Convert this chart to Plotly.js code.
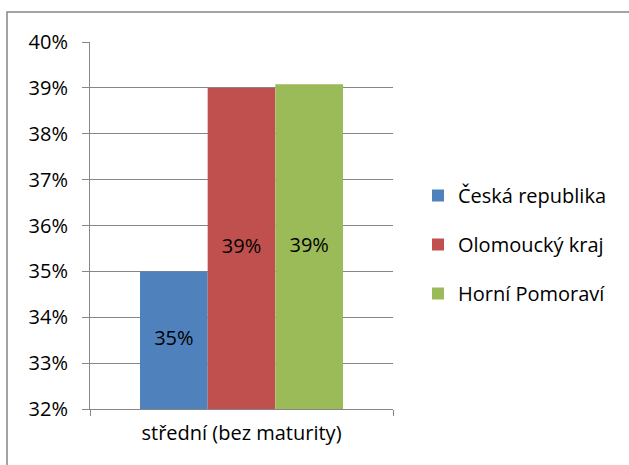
<!DOCTYPE html>
<html>
<head>
<meta charset="utf-8">
<script src="https://cdn.plot.ly/plotly-3.0.1.min.js"></script>
<style>html,body{margin:0;padding:0;background:#fff;}#chart{width:629px;height:465px;}</style>
</head>
<body>
<div id="chart"></div>
<script>
var categories = ["střední (bez maturity)"];
var seriesNames = ["Česká republika", "Olomoucký kraj", "Horní Pomoraví"];
var ceskaRepublika = [0.350];
var olomouckyKraj = [0.390];
var horniPomoravi = [0.3908];
var yTickVals = [0.32, 0.33, 0.34, 0.35, 0.36, 0.37, 0.38, 0.39, 0.40];

var colors = ["#4F81BD", "#C0504D", "#9BBB59"];
var values = [ceskaRepublika, olomouckyKraj, horniPomoravi];
var FONT = "Open Sans, Noto Sans, sans-serif";
var yMin = yTickVals[0], yMax = yTickVals[yTickVals.length - 1];

var traces = values.map(function (v, i) {
  return {
    type: "bar",
    name: seriesNames[i],
    x: categories,
    y: v,
    legendgroup: "g" + i,
    offsetgroup: "o" + i,
    marker: {color: colors[i], line: {width: 0}},
    hoverinfo: "none"
  };
});

// data labels centred in the visible part of each bar
values.forEach(function (v, i) {
  traces.push({
    type: "scatter",
    mode: "text",
    x: categories,
    y: v.map(function (d) { return (yMin + d) / 2; }),
    text: v.map(function (d) { return Math.round(d * 100) + "%"; }),
    textposition: "middle center",
    textfont: {family: FONT, size: 20, color: "#000"},
    offsetgroup: "o" + i,
    showlegend: false,
    cliponaxis: false,
    hoverinfo: "none"
  });
});

// plot area geometry (px)
var L = 90, R = 393, T = 42, B = 409, W = 629, H = 465;
function px2x(p) { return (p - L) / (R - L); }
function px2y(p) { return (B - p) / (B - T); }

var layout = {
  width: W, height: H,
  margin: {l: L, r: W - R, t: T, b: H - B, pad: 0},
  paper_bgcolor: "#fff", plot_bgcolor: "#fff",
  font: {family: FONT, size: 20, color: "#000"},
  barmode: "group",
  bargap: 0.33,
  bargroupgap: 0,
  scattermode: "group",
  scattergap: 0.33,
  showlegend: true,
  legend: {
    x: px2x(418), xanchor: "left",
    y: px2y(176), yanchor: "top",
    traceorder: "grouped",
    tracegroupgap: 20,
    font: {family: FONT, size: 20, color: "#000"},
    bgcolor: "rgba(0,0,0,0)"
  },
  xaxis: {
    type: "category",
    showline: true, linecolor: "#868686", linewidth: 1,
    ticks: "outside", tickson: "boundaries", ticklen: 6, tickcolor: "#868686",
    showgrid: false, zeroline: false,
    tickfont: {family: FONT, size: 20, color: "#000"},
    ticklabelstandoff: 6,
    fixedrange: true
  },
  yaxis: {
    range: [yMin, yMax],
    tickvals: yTickVals,
    tickformat: ".0%",
    showline: true, linecolor: "#868686", linewidth: 1,
    ticks: "outside", ticklen: 7, tickcolor: "#868686",
    showgrid: true, gridcolor: "#868686", gridwidth: 1,
    zeroline: false,
    tickfont: {family: FONT, size: 20, color: "#000"},
    ticklabelstandoff: 10,
    fixedrange: true
  },
  shapes: [{
    type: "rect", xref: "paper", yref: "paper",
    x0: px2x(7), x1: px2x(700), y0: px2y(520), y1: px2y(12),
    line: {color: "#868686", width: 1.5}, fillcolor: "rgba(0,0,0,0)", layer: "above"
  }]
};

Plotly.newPlot("chart", traces, layout, {staticPlot: true, displayModeBar: false});
</script>
</body>
</html>
